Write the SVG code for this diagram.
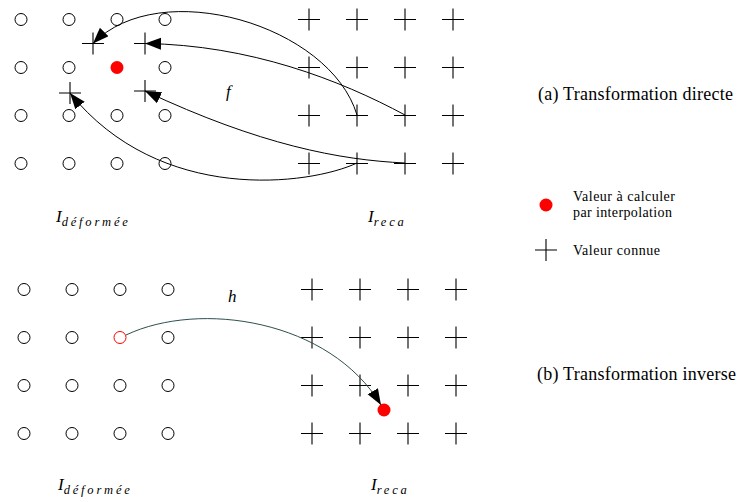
<svg xmlns="http://www.w3.org/2000/svg" width="739" height="502" viewBox="0 0 739 502">
<defs>
<style>
.c{fill:none;stroke:#000;stroke-width:1}
.k{stroke:#000;stroke-width:1.1;fill:none}
.t{font-family:'Liberation Serif','Times New Roman','DejaVu Serif',serif;fill:#000}
.m{font-family:'Liberation Serif','Times New Roman','DejaVu Serif',serif;font-style:italic;fill:#000}
.s{font-size:12.5px;letter-spacing:2.8px}
.e{fill:none;stroke:#000;stroke-width:1}
</style>
<marker id="ah" markerUnits="userSpaceOnUse" markerWidth="18" markerHeight="13" refX="16" refY="6" orient="auto">
<path d="M0,0 L16,6 L0,12 z" fill="#000"/>
</marker>
<circle id="o" r="6" class="c"/>
<path id="x" d="M-11,0 H11 M0,-11 V11" class="k"/>
</defs>
<rect width="739" height="502" fill="#fff"/>

<g id="grid-a-deformee">
<use href="#o" x="21" y="19.5"/><use href="#o" x="69" y="19.5"/><use href="#o" x="117" y="19.5"/><use href="#o" x="165" y="19.5"/>
<use href="#o" x="21" y="67.5"/><use href="#o" x="69" y="67.5"/><use href="#o" x="165" y="67.5"/>
<use href="#o" x="21" y="115.5"/><use href="#o" x="69" y="115.5"/><use href="#o" x="117" y="115.5"/><use href="#o" x="165" y="115.5"/>
<use href="#o" x="21" y="163.5"/><use href="#o" x="69" y="163.5"/><use href="#o" x="117" y="163.5"/><use href="#o" x="165" y="163.5"/>
<circle cx="117" cy="67.5" r="6.5" fill="#f00"/>
<use href="#x" x="93" y="43.5"/><use href="#x" x="145" y="43.5"/>
<use href="#x" x="70" y="93"/><use href="#x" x="145" y="91"/>
</g>

<g id="grid-a-reca">
<use href="#x" x="309" y="19.5"/><use href="#x" x="357" y="19.5"/><use href="#x" x="405" y="19.5"/><use href="#x" x="453" y="19.5"/>
<use href="#x" x="309" y="67.5"/><use href="#x" x="357" y="67.5"/><use href="#x" x="405" y="67.5"/><use href="#x" x="453" y="67.5"/>
<use href="#x" x="309" y="115.5"/><use href="#x" x="357" y="115.5"/><use href="#x" x="405" y="115.5"/><use href="#x" x="453" y="115.5"/>
<use href="#x" x="309" y="163.5"/><use href="#x" x="357" y="163.5"/><use href="#x" x="405" y="163.5"/><use href="#x" x="453" y="163.5"/>
</g>

<g id="grid-b-deformee">
<use href="#o" x="24" y="289.5"/><use href="#o" x="72" y="289.5"/><use href="#o" x="120" y="289.5"/><use href="#o" x="168" y="289.5"/>
<use href="#o" x="24" y="337.5"/><use href="#o" x="72" y="337.5"/><use href="#o" x="168" y="337.5"/>
<use href="#o" x="24" y="385.5"/><use href="#o" x="72" y="385.5"/><use href="#o" x="120" y="385.5"/><use href="#o" x="168" y="385.5"/>
<use href="#o" x="24" y="433.5"/><use href="#o" x="72" y="433.5"/><use href="#o" x="120" y="433.5"/><use href="#o" x="168" y="433.5"/>
<circle cx="120" cy="337.5" r="6" fill="none" stroke="#f00" stroke-width="1"/>
</g>

<g id="grid-b-reca">
<use href="#x" x="312" y="289.5"/><use href="#x" x="360" y="289.5"/><use href="#x" x="408" y="289.5"/><use href="#x" x="456" y="289.5"/>
<use href="#x" x="312" y="337.5"/><use href="#x" x="360" y="337.5"/><use href="#x" x="408" y="337.5"/><use href="#x" x="456" y="337.5"/>
<use href="#x" x="312" y="385.5"/><use href="#x" x="360" y="385.5"/><use href="#x" x="408" y="385.5"/><use href="#x" x="456" y="385.5"/>
<use href="#x" x="312" y="433.5"/><use href="#x" x="360" y="433.5"/><use href="#x" x="408" y="433.5"/><use href="#x" x="456" y="433.5"/>
<circle cx="384" cy="410" r="6.5" fill="#f00"/>
</g>

<g id="connectors">
<path class="e" d="M357,115 C330,25 160,-25 93,43.5" marker-end="url(#ah)"/>
<path class="e" d="M405,115 C340,80 250,45 145,43.5" marker-end="url(#ah)"/>
<path class="e" d="M357,163 C310,185 160,205 70,93" marker-end="url(#ah)"/>
<path class="e" d="M405,163 C340,160 260,145 145,91" marker-end="url(#ah)"/>
<path d="M126,335 C200,300 330,320 381,405" fill="none" stroke="#2f4f4f" stroke-width="1" marker-end="url(#ah)"/>
</g>

<g id="labels">
<text class="m" x="226" y="97" font-size="17">f</text>
<text class="m" x="228" y="302" font-size="17">h</text>
<text class="m" x="56" y="222" font-size="17">I<tspan class="s" dy="4">déformée</tspan></text>
<text class="m" x="368" y="222" font-size="17">I<tspan class="s" dy="4">reca</tspan></text>
<text class="m" x="58" y="490" font-size="17">I<tspan class="s" dy="4">déformée</tspan></text>
<text class="m" x="371" y="490" font-size="17">I<tspan class="s" dy="4">reca</tspan></text>
<text class="t" x="538" y="100" font-size="18" textLength="195">(a) Transformation directe</text>
<text class="t" x="537" y="380" font-size="18" textLength="199">(b) Transformation inverse</text>
</g>

<g id="legend">
<circle cx="546" cy="205" r="6.5" fill="#f00"/>
<text class="t" x="573" y="201" font-size="14" textLength="102">Valeur à calculer</text>
<text class="t" x="573" y="217" font-size="14" textLength="99">par interpolation</text>
<use href="#x" x="546" y="250"/>
<text class="t" x="573" y="255" font-size="14" textLength="87">Valeur connue</text>
</g>
</svg>
